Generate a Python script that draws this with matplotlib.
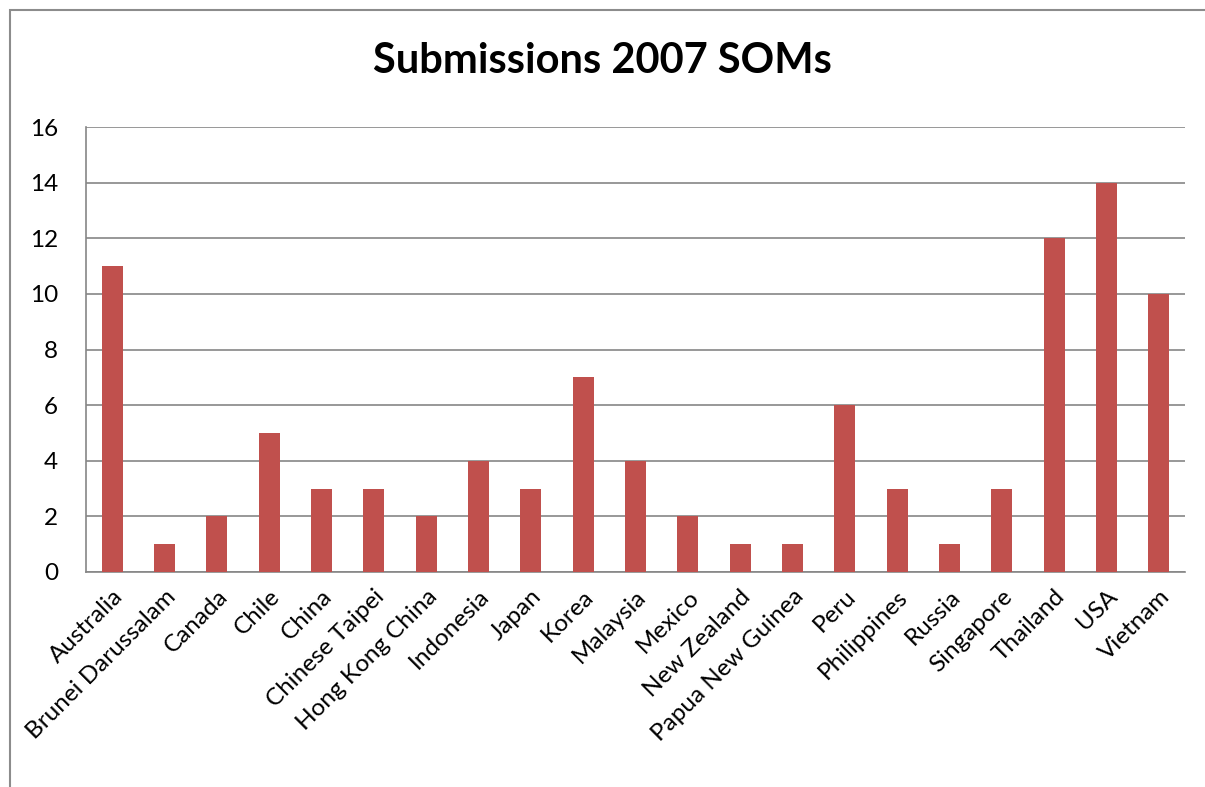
import matplotlib.pyplot as plt
from matplotlib.patches import Rectangle
import numpy as np

countries = ['Australia', 'Brunei Darussalam', 'Canada', 'Chile', 'China',
             'Chinese Taipei', 'Hong Kong China', 'Indonesia', 'Japan', 'Korea',
             'Malaysia', 'Mexico', 'New Zealand', 'Papua New Guinea', 'Peru',
             'Philippines', 'Russia', 'Singapore', 'Thailand', 'USA', 'Vietnam']
submissions = [11, 1, 2, 5, 3, 3, 2, 4, 3, 7, 4, 2, 1, 1, 6, 3, 1, 3, 12, 14, 10]
yticks = [0, 2, 4, 6, 8, 10, 12, 14, 16]

plt.rcParams['font.family'] = ['Lato', 'DejaVu Sans']

fig = plt.figure(figsize=(12.05, 7.87), dpi=100)
W, H = 1205, 787
ax = fig.add_axes([86 / W, 1 - 572 / H, (1185 - 86) / W, (572 - 127) / H])

x = np.arange(len(countries))
ax.bar(x, submissions, width=0.4, color='#C0504D', zorder=3)

ax.set_xlim(-0.5, len(countries) - 0.5)
ax.set_ylim(0, 16)
ax.set_yticks(yticks)
ax.set_yticklabels([str(v) for v in yticks], fontsize=17.5)
ax.set_xticks(x)
ax.set_xticklabels(countries, fontsize=17.5, rotation=45, ha='right',
                   va='top', rotation_mode='anchor')
ax.tick_params(axis='both', length=0)
ax.tick_params(axis='y', pad=20)
ax.tick_params(axis='x', pad=10)

ax.grid(axis='y', color='#868686', linewidth=1.2, zorder=0)
for side in ['top', 'right']:
    ax.spines[side].set_visible(False)
for side in ['left', 'bottom']:
    ax.spines[side].set_color('#868686')
    ax.spines[side].set_linewidth(1.2)

fig.text(602 / W, 1 - 61 / H, 'Submissions 2007 SOMs', fontsize=30,
         fontweight='bold', ha='center', va='center')

# outer chart frame running off the right and bottom edges
fig.patches.append(Rectangle((9.5 / W, -0.1), 1.2, 1 - 9.5 / H + 0.1,
                             transform=fig.transFigure, fill=False,
                             edgecolor='#8c8c8c', linewidth=1.5))

fig.savefig('out.png', dpi=100, facecolor='white')
